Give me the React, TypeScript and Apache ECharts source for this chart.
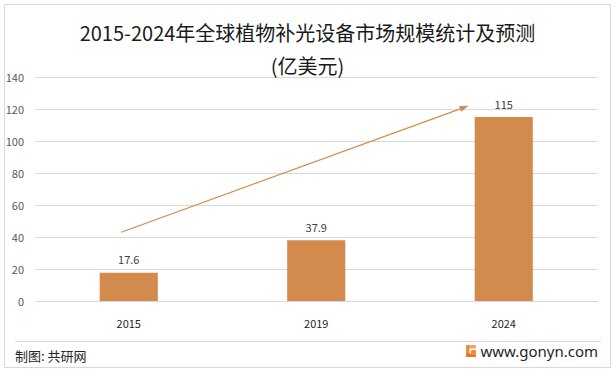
import React, { useEffect, useRef } from "react";
import * as echarts from "echarts";

const categories = ["2015", "2019", "2024"];
const values = [17.6, 37.9, 115];
const yTicks = { min: 0, max: 140, interval: 20 };
// trend arrow endpoints: [x position on a hidden 0..2 category-index axis, value]
const arrowStart = [-0.04, 43];
const arrowEnd = [1.79, 121];

const titleText = "2015-2024年全球植物补光设备市场规模统计及预测";
const unitText = "(亿美元)";
const sourceText = "制图: 共研网";
const siteText = "www.gonyn.com";

export default function App() {
  const ref = useRef<HTMLDivElement>(null);
  useEffect(() => {
    document.body.style.margin = "0";
    const chart = echarts.init(ref.current!, null, { renderer: "svg" });
    const font = "'Microsoft YaHei', 'Noto Sans CJK SC', sans-serif";
    chart.setOption({
      animation: false,
      backgroundColor: "#ffffff",
      textStyle: { fontFamily: font },
      title: [
        {
          text: titleText,
          left: "center",
          top: 17,
          textStyle: { fontSize: 20, fontWeight: "normal", color: "#1a1a1a", fontFamily: font },
        },
        {
          text: unitText,
          left: "center",
          top: 50,
          textStyle: { fontSize: 20, fontWeight: "normal", color: "#1a1a1a", fontFamily: font },
        },
      ],
      grid: { left: 35, right: 17.5, top: 77, bottom: 70, containLabel: false },
      xAxis: [
        {
          type: "category",
          data: categories,
          axisLine: { lineStyle: { color: "#d9d9d9" } },
          axisTick: { show: false },
          axisLabel: { color: "#262626", fontSize: 11, margin: 16 },
        },
        {
          type: "value",
          min: -0.5,
          max: 2.5,
          show: false,
        },
      ],
      yAxis: {
        type: "value",
        min: yTicks.min,
        max: yTicks.max,
        interval: yTicks.interval,
        axisLine: { show: false },
        axisTick: { show: false },
        splitLine: { lineStyle: { color: "#d9d9d9" } },
        axisLabel: { color: "#595959", fontSize: 11, margin: 11 },
      },
      series: [
        {
          type: "bar",
          data: values,
          barWidth: "31%",
          itemStyle: { color: "#D38B4D" },
          label: { show: true, position: "top", color: "#404040", fontSize: 11, distance: 8 },
        },
        {
          type: "line",
          xAxisIndex: 1,
          data: [],
          markLine: {
            silent: true,
            symbol: ["none", "triangle"],
            symbolSize: [6, 9],
            label: { show: false },
            lineStyle: { color: "#D38B4D", width: 1.2, type: "solid" },
            data: [[{ coord: arrowStart }, { coord: arrowEnd }]],
          },
        },
      ],
      graphic: [
        {
          type: "rect",
          shape: { x: 4.5, y: 4.5, width: 606, height: 363 },
          style: { fill: "none", stroke: "#d9d9d9", lineWidth: 1 },
          silent: true,
        },
        {
          type: "line",
          shape: { x1: 15, y1: 341.5, x2: 601, y2: 341.5 },
          style: { stroke: "#d9d9d9", lineWidth: 1 },
        },
        {
          type: "text",
          left: 15,
          top: 349,
          style: { text: sourceText, fontSize: 13, fill: "#262626", fontFamily: font },
        },
        {
          type: "text",
          right: 17,
          top: 343,
          style: { text: siteText, fontSize: 15, fill: "#262626", fontFamily: "'Microsoft YaHei', 'Noto Sans', sans-serif" },
        },
        {
          type: "group",
          left: 466,
          top: 345,
          children: [
            { type: "rect", shape: { x: 0, y: 0, width: 10, height: 3.5, r: 1 }, style: { fill: "#F4A463" } },
            { type: "rect", shape: { x: 0, y: 0, width: 3.5, height: 12, r: 1 }, style: { fill: "#F08A3C" } },
            { type: "rect", shape: { x: 0, y: 8.5, width: 10, height: 3.5, r: 1 }, style: { fill: "#E8742A" } },
            { type: "rect", shape: { x: 5, y: 5, width: 5, height: 5, r: 0.5 }, style: { fill: "#F08A3C" } },
          ],
        },
      ],
    });
    return () => chart.dispose();
  }, []);
  return <div ref={ref} style={{ width: 615, height: 371 }} />;
}
